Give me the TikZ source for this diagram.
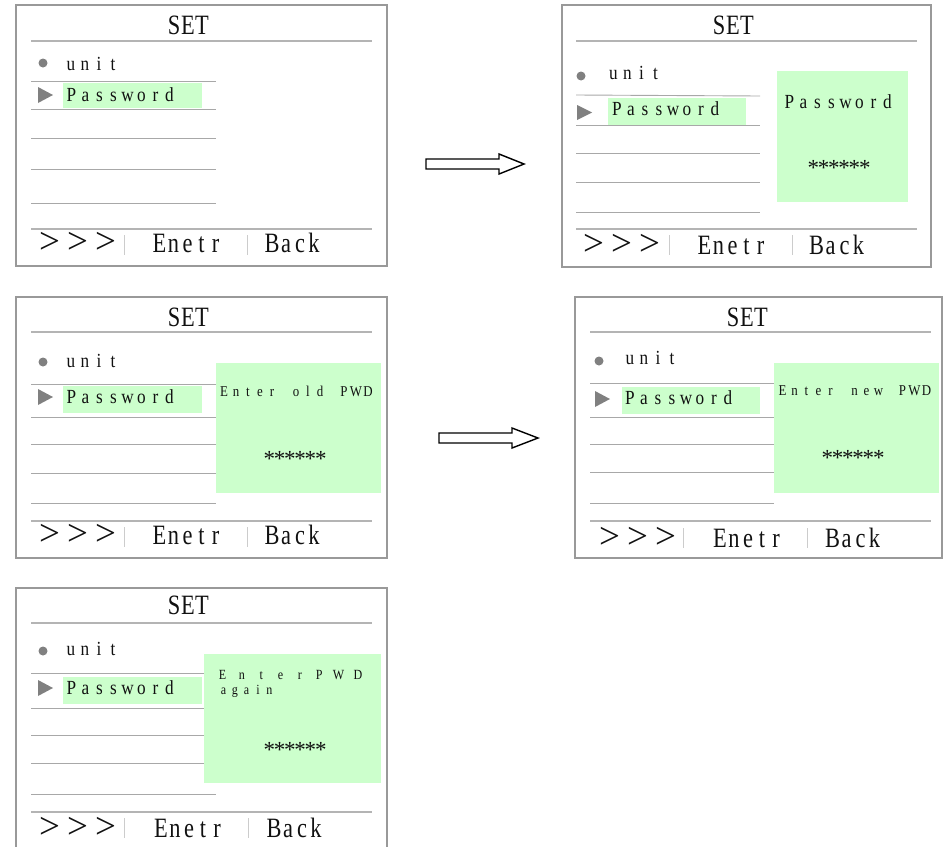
\documentclass[tikz,border=0pt]{standalone}
\usepackage{fontspec}
\setmainfont{Liberation Serif}
\newfontfamily\cnd[FakeStretch=0.8]{Liberation Serif}
\newfontfamily\cnds[FakeStretch=0.86]{Liberation Serif}
\ExplSyntaxOn
\NewDocumentCommand\mono{mm}{\str_map_inline:nn{#2}{\makebox[#1][c]{##1}}}
\ExplSyntaxOff
\definecolor{frameg}{HTML}{999999}
\definecolor{ruleg}{HTML}{B4B4B4}
\definecolor{lineg}{HTML}{A8A8A8}
\definecolor{sepg}{HTML}{CCCCCC}
\definecolor{markg}{HTML}{808080}
\definecolor{pwgreen}{HTML}{CCFFCC}
\definecolor{txt}{HTML}{111111}
\tikzset{
  frame/.style={draw=frameg, line width=1.3pt},
  rule/.style={draw=ruleg, line width=1.2pt},
  row/.style={draw=lineg, line width=0.9pt},
  sepline/.style={draw=sepg, line width=1pt},
  hl/.style={fill=pwgreen},
  mk/.style={fill=markg},
  bigtxt/.style={inner sep=0pt, font=\cnd\fontsize{28}{28}\selectfont, text=txt},
  chev/.style={inner sep=0pt, font=\fontsize{37}{37}\selectfont, text=txt},
  smalltxt/.style={inner sep=0pt, font=\cnds\fontsize{20}{20}\selectfont, text=txt},
  tinytxt/.style={inner sep=0pt, font=\cnds\fontsize{15}{15}\selectfont, text=txt},
  twoline/.style={inner sep=0pt, align=left, font=\cnds\fontsize{14}{15.5}\selectfont, text=txt},
  startxt/.style={inner sep=0pt, font=\fontsize{23}{23}\selectfont, text=txt},
  blockarrow/.style={draw=black, line width=1.4pt, fill=white, line join=miter},
}
\begin{document}
\begin{tikzpicture}[x=1pt,y=-1pt]
\useasboundingbox (0,0) rectangle (944,846);

% ================= Panel 1 =================
\draw[frame] (16,5) rectangle (387,266);
\draw[rule] (31,41) -- (372,41);
\node[bigtxt] (p1set) at (188,25) {\mono{14pt}{SET}};
\fill[mk] (43,63) circle[radius=4.5];
\node[smalltxt] (p1unit) at (92,64) {\mono{14pt}{unit}};
\draw[row] (31,81) -- (216,81);
\fill[hl] (63,83) rectangle (202,108);
\fill[mk] (38,87) -- (38,103) -- (53,95) -- cycle;
\node[smalltxt] (p1pw) at (120.5,95) {\mono{14pt}{Password}};
\draw[row] (31,109) -- (216,109);
\draw[row] (31,138) -- (216,138);
\draw[row] (31,169) -- (216,169);
\draw[row] (31,203) -- (216,203);
\draw[rule] (31,229) -- (372,229);
\node[chev] (p1more) at (77.5,243) {\mono{28pt}{>>>}};
\draw[sepline] (124,235) -- (124,255);
\node[bigtxt] (p1ent) at (187.5,243) {\mono{14pt}{Enetr}};
\draw[sepline] (247,235) -- (247,255);
\node[bigtxt] (p1back) at (293,243) {\mono{14pt}{Back}};

% ================= Panel 2 =================
\draw[frame] (562,5) rectangle (931,267);
\draw[rule] (576,41) -- (917,41);
\node[bigtxt] (p2set) at (733,25) {\mono{14pt}{SET}};
\fill[mk] (581,76) circle[radius=4.5];
\node[smalltxt] (p2unit) at (634.5,73) {\mono{14pt}{unit}};
\draw[row] (576,95) -- (760,96);
\fill[hl] (608,98) rectangle (746,125);
\fill[mk] (577,105) -- (577,120) -- (592,112.5) -- cycle;
\node[smalltxt] (p2pw) at (666,109) {\mono{14pt}{Password}};
\draw[row] (576,125) -- (760,125);
\draw[row] (576,153) -- (760,153);
\draw[row] (576,182) -- (760,182);
\draw[row] (576,212) -- (760,212);
\fill[hl] (777,71) rectangle (908,202);
\node[smalltxt] (p2pop) at (838.5,102) {\mono{14pt}{Password}};
\node[startxt] (p2star) at (839,168) {\mono{10.3pt}{******}};
\draw[rule] (576,229) -- (917,229);
\node[chev] (p2more) at (621.5,245) {\mono{28pt}{>>>}};
\draw[sepline] (669,235) -- (669,255);
\node[bigtxt] (p2ent) at (732.5,245) {\mono{14pt}{Enetr}};
\draw[sepline] (792,235) -- (792,255);
\node[bigtxt] (p2back) at (837.5,245) {\mono{14pt}{Back}};

% ================= Panel 3 =================
\draw[frame] (16,297) rectangle (387,558);
\draw[rule] (31,332) -- (372,332);
\node[bigtxt] (p3set) at (188,317) {\mono{14pt}{SET}};
\fill[mk] (43,362) circle[radius=4.5];
\node[smalltxt] (p3unit) at (92,361) {\mono{14pt}{unit}};
\draw[row] (31,384) -- (216,384);
\fill[hl] (63,386) rectangle (202,413);
\fill[mk] (38,389) -- (38,405) -- (53,397) -- cycle;
\node[smalltxt] (p3pw) at (120.5,397) {\mono{14pt}{Password}};
\draw[row] (31,417) -- (216,417);
\draw[row] (31,444) -- (216,444);
\draw[row] (31,473) -- (216,473);
\draw[row] (31,503) -- (216,503);
\fill[hl] (216,363) rectangle (381,493);
\node[tinytxt] (p3pop) at (296,391) {\mono{12pt}{Enter old PWD}};
\node[startxt] (p3star) at (295,459) {\mono{10.3pt}{******}};
\draw[rule] (31,521) -- (372,521);
\node[chev] (p3more) at (77.5,535) {\mono{28pt}{>>>}};
\draw[sepline] (124,527) -- (124,547);
\node[bigtxt] (p3ent) at (187.5,535) {\mono{14pt}{Enetr}};
\draw[sepline] (247,527) -- (247,547);
\node[bigtxt] (p3back) at (293,535) {\mono{14pt}{Back}};

% ================= Panel 4 =================
\draw[frame] (575,297) rectangle (942,558);
\draw[rule] (590,332) -- (931,332);
\node[bigtxt] (p4set) at (747,317) {\mono{14pt}{SET}};
\fill[mk] (599,361) circle[radius=4.5];
\node[smalltxt] (p4unit) at (651,358) {\mono{14pt}{unit}};
\draw[row] (590,383) -- (774,383);
\fill[hl] (622,387) rectangle (760,414);
\fill[mk] (595,391) -- (595,407) -- (610,399) -- cycle;
\node[smalltxt] (p4pw) at (679,398) {\mono{14pt}{Password}};
\draw[row] (590,417) -- (774,417);
\draw[row] (590,444) -- (774,444);
\draw[row] (590,472) -- (774,472);
\draw[row] (590,503) -- (774,503);
\fill[hl] (774,363) rectangle (939,493);
\node[tinytxt] (p4pop) at (854.5,391) {\mono{12pt}{Enter new PWD}};
\node[startxt] (p4star) at (853,458) {\mono{10.3pt}{******}};
\draw[rule] (590,521) -- (931,521);
\node[chev] (p4more) at (637.5,538) {\mono{28pt}{>>>}};
\draw[sepline] (683,528) -- (683,548);
\node[bigtxt] (p4ent) at (748,538) {\mono{14pt}{Enetr}};
\draw[sepline] (807,528) -- (807,548);
\node[bigtxt] (p4back) at (853.5,538) {\mono{14pt}{Back}};

% ================= Panel 5 =================
\draw[frame] (16,847) -- (16,588) -- (387,588) -- (387,847);
\draw[rule] (31,623) -- (372,623);
\node[bigtxt] (p5set) at (188,605) {\mono{14pt}{SET}};
\fill[mk] (43,651) circle[radius=4.5];
\node[smalltxt] (p5unit) at (92,649) {\mono{14pt}{unit}};
\draw[row] (31,673) -- (204,673);
\fill[hl] (63,677) rectangle (202,704);
\fill[mk] (38,680) -- (38,696) -- (53,688) -- cycle;
\node[smalltxt] (p5pw) at (120.5,688) {\mono{14pt}{Password}};
\draw[row] (31,708) -- (204,708);
\draw[row] (31,735) -- (204,735);
\draw[row] (31,763) -- (204,763);
\draw[row] (31,794) -- (216,794);
\fill[hl] (204,654) rectangle (381,783);
\node[twoline, anchor=north west] (p5pop) at (217.5,670)
  {\mono{9.67pt}{E n t e r  P W D}\\\mono{11.5pt}{again}};
\node[startxt] (p5star) at (295,750) {\mono{10.3pt}{******}};
\draw[rule] (31,812) -- (372,812);
\node[chev] (p5more) at (77.5,828) {\mono{28pt}{>>>}};
\draw[sepline] (124,818) -- (124,838);
\node[bigtxt] (p5ent) at (189,828) {\mono{14pt}{Enetr}};
\draw[sepline] (248,818) -- (248,838);
\node[bigtxt] (p5back) at (295,828) {\mono{14pt}{Back}};

% ================= Block arrows =================
\draw[blockarrow] (426,159) -- (499,159) -- (499,154) -- (524,164) -- (499,174) -- (499,169) -- (426,169) -- cycle;
\draw[blockarrow] (439,433) -- (512,433) -- (512,428) -- (538,438) -- (512,448) -- (512,443) -- (439,443) -- cycle;
\end{tikzpicture}
\end{document}
